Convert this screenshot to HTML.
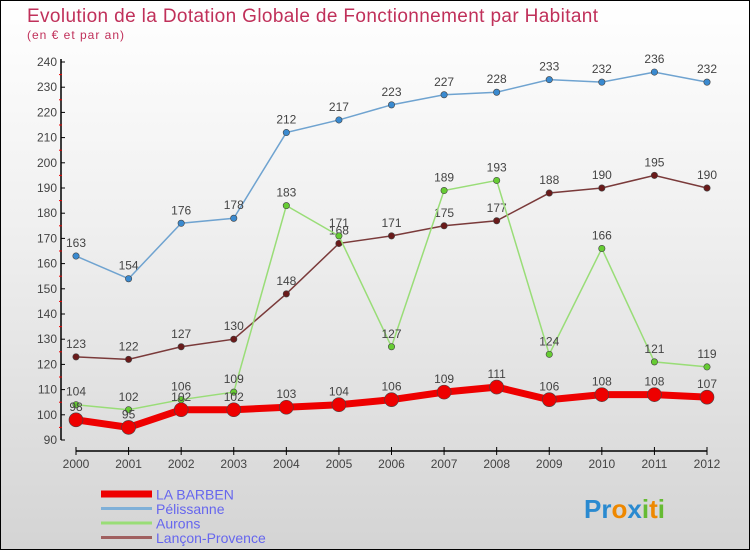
<!DOCTYPE html>
<html><head><meta charset="utf-8"><style>
body{margin:0}
#c{width:750px;height:550px;position:relative;overflow:hidden;box-sizing:border-box;border:1px solid #000;background:linear-gradient(#fff 0%,#f0f0f0 40%,#d4d4d4 100%);font-family:"Liberation Sans",sans-serif}
svg{position:absolute;left:0;top:0}
</style></head><body>
<div id="c">
<svg id="s" width="750" height="550">
<text x="26" y="21" font-size="19" fill="#c0305a" textLength="571">Evolution de la Dotation Globale de Fonctionnement par Habitant</text>
<text x="26" y="38" font-size="12" fill="#c0305a" textLength="97">(en € et par an)</text>
</svg>
</div>
<script>
const years=["2000","2001","2002","2003","2004","2005","2006","2007","2008","2009","2010","2011","2012"];
const laBarben=[98,95,102,102,103,104,106,109,111,106,108,108,107];
const pelissanne=[163,154,176,178,212,217,223,227,228,233,232,236,232];
const aurons=[104,102,106,109,183,171,127,189,193,124,166,121,119];
const lancon=[123,122,127,130,148,168,171,175,177,188,190,195,190];
const yTicks=[90,100,110,120,130,140,150,160,170,180,190,200,210,220,230,240];
const seriesNames=["LA BARBEN","Pélissanne","Aurons","Lançon-Provence"];
const NS="http://www.w3.org/2000/svg";
const svg=document.getElementById('s');
function X(i){return 75+i*(706-75)/(years.length-1);}
function Y(v){return 439-(v-90)*(439-61)/150;}
function el(t,a,p){const e=document.createElementNS(NS,t);for(const k in a)e.setAttribute(k,a[k]);(p||svg).appendChild(e);return e;}
let a=el('line',{x1:60,y1:58,x2:60,y2:439,stroke:'#000','stroke-width':1.5});


a=el('line',{x1:75,y1:450,x2:706,y2:450,stroke:'#000','stroke-width':1.5});


yTicks.forEach(v=>{
 el('line',{x1:60,y1:Y(v),x2:64,y2:Y(v),stroke:'#000'});
 if(v<240)el('line',{x1:58,y1:Y(v+5),x2:61,y2:Y(v+5),stroke:'#e00'});
 const t=el('text',{x:56,y:Y(v)+4,'font-size':12,fill:'#444','text-anchor':'end'});t.textContent=v;
 
 
});
years.forEach((y,i)=>{
 el('line',{x1:X(i),y1:446,x2:X(i),y2:454,stroke:'#000'});
 const t=el('text',{x:X(i),y:467,'font-size':12,fill:'#444','text-anchor':'middle'});t.textContent=y;
 
 
});
function series(data,color,dot,w,r,name){
 const g=el('g',{});
 
 
 el('polyline',{points:data.map((v,i)=>X(i)+','+Y(v)).join(' '),fill:'none',stroke:color,'stroke-width':w},g);
 data.forEach((v,i)=>{
  const c=el('circle',{cx:X(i),cy:Y(v),r:r,fill:dot,stroke:'#444','stroke-width':0.6},g);
  
  
  const t=el('text',{x:X(i),y:Y(v)-9,'font-size':12,fill:'#444','text-anchor':'middle'},g);t.textContent=v;
 });
}
series(lancon,'#7a3a3a','#6a1a1a',1.5,3.2,'lancon-series');
series(aurons,'#99dd77','#66cc33',1.5,3.2,'aurons-series');
series(pelissanne,'#6fa3d0','#3a8ad0',1.5,3.2,'pelissanne-series');
series(laBarben,'#ee0000','#ee0000',7,7,'labarben-series');
const lc=['#ee0000','#7fb0d8','#99dd77','#a06060'],lw=[7,3,3,3];
seriesNames.forEach((n,i)=>{
 const y=493+i*14.5;
 const l=el('line',{x1:100,y1:y,x2:151,y2:y,stroke:lc[i],'stroke-width':lw[i]});
 
 
 const t=el('text',{x:155,y:y+5.5,'font-size':14,fill:'#6666ee'});t.textContent=n;
 
 
});
const p=el('text',{x:583,y:517,'font-size':26,'font-weight':'bold',fill:'#3399cc'});


p.innerHTML='<tspan fill="#2a8ad0">Pr</tspan><tspan fill="#ee8800">o</tspan><tspan fill="#2a8ad0">x</tspan><tspan fill="#66bb33">i</tspan><tspan fill="#ee8800">t</tspan><tspan fill="#66bb33">i</tspan>';
</script>
</body></html>
